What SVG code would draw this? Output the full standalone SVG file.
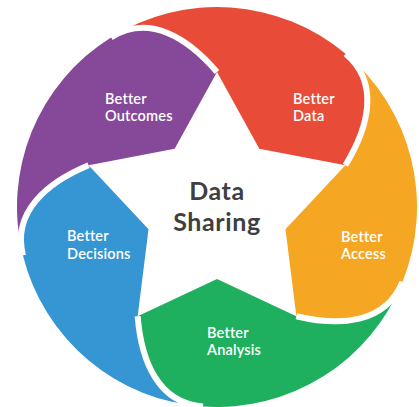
<svg xmlns="http://www.w3.org/2000/svg" xmlns:xlink="http://www.w3.org/1999/xlink" width="419" height="407" viewBox="0 0 419 407">
<style>
.lbl{font-family:Lato,"Open Sans","Liberation Sans",sans-serif;font-size:14.5px;font-weight:600;fill:#ffffff;letter-spacing:0.2px}
.ctr{font-family:Lato,"Open Sans","Liberation Sans",sans-serif;font-size:25px;font-weight:700;fill:#3f3f41;text-anchor:middle;letter-spacing:0.6px}
.gap{fill:none;stroke:#ffffff;stroke-width:6}
</style>
<defs>
<path id="blade" d="M 217,72 L 259.32,148.75 L 345.39,165.28 C 368.79,127.03 380.03,82.73 345.56,53.79 A 200 200 0 0 0 111.02,37.39 C 149.18,13.54 187.85,37.92 217,72 Z"/>
<path id="lead" d="M 345.56,53.79 C 380.03,82.73 368.79,127.03 345.39,165.28"/>
</defs>
<rect width="419" height="407" fill="#ffffff"/>
<g id="better-data">
<use xlink:href="#blade" href="#blade" fill="#E84C38"/>
</g>
<g id="better-access">
<use xlink:href="#blade" href="#blade" fill="#F5A623" transform="rotate(72 217 207)"/>
</g>
<g id="better-analysis">
<use xlink:href="#blade" href="#blade" fill="#1EB05E" transform="rotate(144 217 207)"/>
</g>
<g id="better-decisions">
<use xlink:href="#blade" href="#blade" fill="#3695D3" transform="rotate(216 217 207)"/>
</g>
<g id="better-outcomes">
<use xlink:href="#blade" href="#blade" fill="#864898" transform="rotate(288 217 207)"/>
</g>
<g id="gaps">
<use xlink:href="#lead" href="#lead" class="gap"/>
<use xlink:href="#lead" href="#lead" class="gap" transform="rotate(72 217 207)"/>
<use xlink:href="#lead" href="#lead" class="gap" transform="rotate(144 217 207)"/>
<use xlink:href="#lead" href="#lead" class="gap" transform="rotate(216 217 207)"/>
<use xlink:href="#lead" href="#lead" class="gap" transform="rotate(288 217 207)"/>
</g>
<g id="labels">
<text class="lbl" x="293" y="104">Better</text>
<text class="lbl" x="293" y="121">Data</text>
<text class="lbl" x="341" y="241.5">Better</text>
<text class="lbl" x="341" y="259">Access</text>
<text class="lbl" x="207" y="338">Better</text>
<text class="lbl" x="207" y="355">Analysis</text>
<text class="lbl" x="67" y="241">Better</text>
<text class="lbl" x="67" y="258.5">Decisions</text>
<text class="lbl" x="105" y="104">Better</text>
<text class="lbl" x="105" y="121">Outcomes</text>
</g>
<g id="center">
<text class="ctr" x="217" y="200">Data</text>
<text class="ctr" x="217" y="231">Sharing</text>
</g>
</svg>
